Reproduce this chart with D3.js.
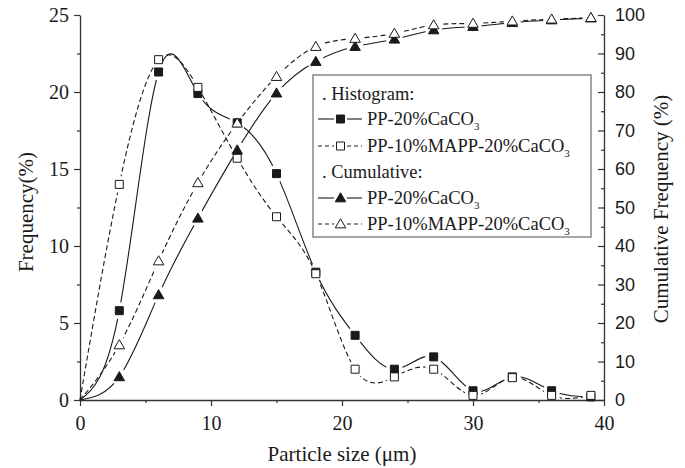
<!DOCTYPE html>
<html><head><meta charset="utf-8">
<script src="https://cdn.jsdelivr.net/npm/d3@7"></script>
<style>body{margin:0;background:#fff}</style>
</head><body>
<svg id="c" width="685" height="468"></svg>
<script>
const sizes = [0, 3, 6, 9, 12, 15, 18, 21, 24, 27, 30, 33, 36, 39];
const histPP   = [0, 5.8, 21.3, 19.9, 18.0, 14.7, 8.3, 4.2, 2.0, 2.8, 0.6, 1.5, 0.6, 0.2];
const histMAPP = [0, 14.0, 22.1, 20.3, 15.7, 11.9, 8.2, 2.0, 1.5, 2.0, 0.3, 1.45, 0.3, 0.3];
const cumPP    = [0, 6.0, 27.3, 47.2, 64.9, 79.7, 87.9, 91.8, 93.7, 96.1, 97.0, 98.0, 98.7, 99.2];
const cumMAPP  = [0, 14.3, 36.1, 56.4, 71.9, 84.0, 91.8, 93.9, 95.2, 97.4, 97.8, 98.4, 98.9, 99.3];
const xTicks = [0, 10, 20, 30, 40];
const yLTicks = [0, 5, 10, 15, 20, 25];
const yRTicks = [0, 10, 20, 30, 40, 50, 60, 70, 80, 90, 100];
const legendLabels = ["PP-20%CaCO", "PP-10%MAPP-20%CaCO"];

const svg = d3.select("#c");
const serif = "'Liberation Serif','Times New Roman',serif";
const sans = "'Liberation Sans',Arial,sans-serif";
const x = d3.scaleLinear().domain([0, 40]).range([80, 604]);
const yL = d3.scaleLinear().domain([0, 25]).range([400, 15]);
const yR = d3.scaleLinear().domain([0, 100]).range([400, 15]);
const ink = "#1a1a1a";

// axes
function styleAxis(g, font, size) {
  g.selectAll("path.domain").attr("stroke", "#333").attr("stroke-width", 1.3);
  g.selectAll(".tick line").attr("stroke", "#333").attr("stroke-width", 1.2);
  g.selectAll("text").attr("font-family", font).attr("font-size", size).attr("fill", ink);
}
const gx = svg.append("g").attr("transform", "translate(0,400)")
  .call(d3.axisBottom(x).tickValues(xTicks).tickSize(6).tickSizeOuter(0).tickPadding(10).tickFormat(d3.format("d")));
styleAxis(gx, serif, 20);
svg.append("g").attr("transform", "translate(0,400)")
  .call(d3.axisBottom(x).tickValues([5, 15, 25, 35]).tickSize(3).tickSizeOuter(0).tickFormat(""))
  .call(g => { g.select("path.domain").remove(); g.selectAll("line").attr("stroke", "#333").attr("stroke-width", 1.2); });

const gl = svg.append("g").attr("transform", "translate(80,0)")
  .call(d3.axisLeft(yL).tickValues(yLTicks).tickSize(6).tickSizeOuter(0).tickPadding(5).tickFormat(d3.format("d")));
styleAxis(gl, serif, 20);
svg.append("g").attr("transform", "translate(80,0)")
  .call(d3.axisLeft(yL).tickValues([2.5, 7.5, 12.5, 17.5, 22.5]).tickSize(3).tickSizeOuter(0).tickFormat(""))
  .call(g => { g.select("path.domain").remove(); g.selectAll("line").attr("stroke", "#333").attr("stroke-width", 1.2); });

const gr = svg.append("g").attr("transform", "translate(604,0)")
  .call(d3.axisRight(yR).tickValues(yRTicks).tickSizeInner(-6).tickSizeOuter(0).tickPadding(11).tickFormat(d3.format("d")));
styleAxis(gr, sans, 18);
svg.append("g").attr("transform", "translate(604,0)")
  .call(d3.axisRight(yR).tickValues(d3.range(5, 100, 10)).tickSizeInner(-3).tickSizeOuter(0).tickFormat(""))
  .call(g => { g.select("path.domain").remove(); g.selectAll("line").attr("stroke", "#333").attr("stroke-width", 1.2); });

// axis titles
svg.append("text").attr("transform", "translate(33,212) rotate(-90)").attr("text-anchor", "middle")
  .attr("font-family", serif).attr("font-size", 21).attr("fill", ink).text("Frequency(%)");
svg.append("text").attr("transform", "translate(668,209) rotate(-90)").attr("text-anchor", "middle")
  .attr("font-family", serif).attr("font-size", 21).attr("fill", ink).text("Cumulative Frequency (%)");
svg.append("text").attr("x", 342).attr("y", 461).attr("text-anchor", "middle")
  .attr("font-family", serif).attr("font-size", 21).attr("fill", ink).text("Particle size (μm)");

// series
const series = [
  {id: "hpp", vals: histPP, y: yL, dash: null, marker: "square", fill: ink},
  {id: "hmapp", vals: histMAPP, y: yL, dash: "5,3", marker: "square", fill: "#fff"},
  {id: "cpp", vals: cumPP, y: yR, dash: null, marker: "triangle", fill: ink},
  {id: "cmapp", vals: cumMAPP, y: yR, dash: "5,3", marker: "triangle", fill: "#fff"}
];
const defs = svg.append("defs");
const sqSym = d3.symbol().type(d3.symbolSquare).size(64);
const triSym = d3.symbol().type(d3.symbolTriangle).size(48);

function drawMarker(g, type, fill, cx, cy) {
  g.append("path").attr("d", (type === "square" ? sqSym : triSym)())
    .attr("transform", `translate(${cx},${cy + (type === "triangle" ? 0.8 : 0)})`)
    .attr("fill", fill).attr("stroke", ink).attr("stroke-width", 1);
}

series.forEach(s => {
  const pts = sizes.map((d, i) => [x(d), s.y(s.vals[i])]);
  const mk = pts.slice(1);
  const m = defs.append("mask").attr("id", "m" + s.id).attr("maskUnits", "userSpaceOnUse")
    .attr("x", 0).attr("y", 0).attr("width", 685).attr("height", 468);
  m.append("rect").attr("width", 685).attr("height", 468).attr("fill", "#fff");
  mk.forEach(p => m.append("circle").attr("cx", p[0]).attr("cy", p[1]).attr("r", 8.5).attr("fill", "#000"));
  s.pts = pts; s.mk = mk;
  svg.append("path").attr("d", d3.line().curve(d3.curveNatural)(pts))
    .attr("fill", "none").attr("stroke", ink).attr("stroke-width", 1.1)
    .attr("stroke-dasharray", s.dash).attr("mask", `url(#m${s.id})`);
});
series.forEach(s => {
  const g = svg.append("g");
  s.mk.forEach(p => drawMarker(g, s.marker, s.fill, p[0], p[1]));
});

// legend
svg.append("rect").attr("x", 313).attr("y", 75).attr("width", 278).attr("height", 162)
  .attr("fill", "#fff").attr("stroke", "#777").attr("stroke-width", 1.3);
const lg = svg.append("g").attr("font-family", serif).attr("font-size", 18.5).attr("fill", ink);
lg.append("text").attr("x", 322).attr("y", 100).text(". Histogram:");
lg.append("text").attr("x", 322).attr("y", 178).text(". Cumulative:");
const rowsY = [125, 152, 204, 230];
series.forEach((s, i) => {
  const by = rowsY[i], cy = by - 6;
  [[318, 334], [347, 362]].forEach(seg => {
    lg.append("line").attr("x1", seg[0]).attr("x2", seg[1]).attr("y1", cy).attr("y2", cy)
      .attr("stroke", ink).attr("stroke-width", 1.1).attr("stroke-dasharray", s.dash ? "4,3" : null);
  });
  drawMarker(lg, s.marker, s.fill, 340.5, cy);
  const t = lg.append("text").attr("x", 367).attr("y", by);
  t.append("tspan").text(legendLabels[i % 2]);
  t.append("tspan").attr("dy", 5).attr("font-size", 11).text("3");
});
</script>
</body></html>
